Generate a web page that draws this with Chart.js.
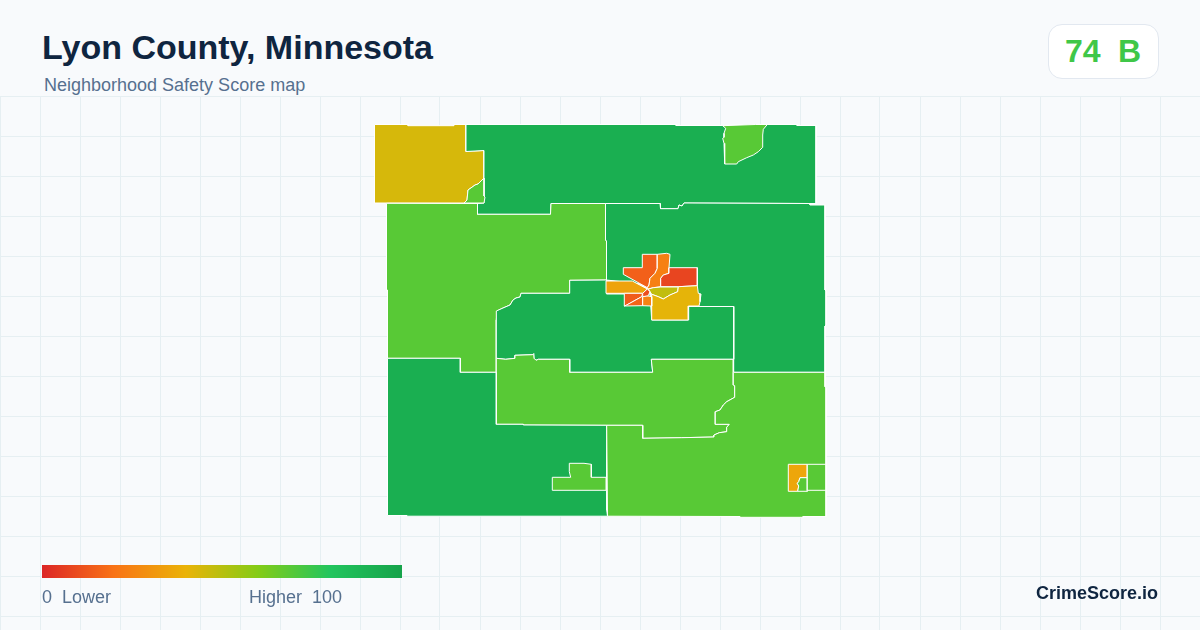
<!DOCTYPE html>
<html>
<head>
<meta charset="utf-8">
<title>Lyon County, Minnesota</title>
<script src="https://cdn.jsdelivr.net/npm/chart.js@4/dist/chart.umd.min.js"></script>
<style>
    html, body { margin: 0; padding: 0; }
    body { width: 1200px; height: 630px; position: relative; overflow: hidden; background: #f8fafc; font-family: "Liberation Sans", Arial, sans-serif; }
    .txt { position: absolute; white-space: pre; line-height: 1; }
    #title { left: 42px; top: 30px; font-size: 34px; font-weight: bold; color: #0f2540; }
    #subtitle { left: 44px; top: 76px; font-size: 18px; color: #56708f; }
    #badge { position: absolute; left: 1048px; top: 24px; width: 109px; height: 53px; background: #fff; border: 1px solid #e2e8f0; border-radius: 14px; }
    #score { left: 1065px; top: 35px; font-size: 32px; font-weight: bold; letter-spacing: -0.1px; }
    #scale { position: absolute; left: 42px; top: 565px; width: 360px; height: 13px; }
    #lower { left: 42px; top: 588px; font-size: 18px; color: #56708f; }
    #higher { left: 249px; top: 588px; font-size: 18px; color: #56708f; }
    #brand { right: 42px; top: 584px; font-size: 18px; font-weight: bold; color: #0f2540; }
    #wrap { position: absolute; left: 0; top: 96px; width: 1200px; height: 534px; }
</style>
</head>
<body>
<div id="wrap"><canvas id="map"></canvas></div>
<div class="txt" id="title">Lyon County, Minnesota</div>
<div class="txt" id="subtitle">Neighborhood Safety Score map</div>
<div id="badge"></div>
<div class="txt" id="score">74  B</div>
<div id="scale"></div>
<div class="txt" id="lower">0  Lower</div>
<div class="txt" id="higher">Higher  100</div>
<div class="txt" id="brand">CrimeScore.io</div>
<script>
// score scale
var scaleStops = [0, 20, 40, 60, 80, 100];
var scaleColors = ['#dc2626', '#f97316', '#eab308', '#84cc16', '#22c55e', '#16a34a'];
var countyScore = 74;

// grid rows of the map frame
var gridRows = [96.5, 136.5, 176.5, 216.5, 256.5, 296.5, 336.5, 376.5, 416.5, 456.5, 496.5, 536.5, 576.5, 616.5];

// tract outlines, in map units
var nwTract = [[374.5,124.5],[408,124.5],[408,125.7],[454,125.7],[454,124.5],[466,124.5],[466,151.5],[472,151],[484,150.5],[484,178],[478,184],[475,185],[473,186.5],[468,190],[467,200],[464,203],[374.5,203]];
var nwCorner = [[484,178],[484,196],[485,197],[484,203],[464,203],[467,200],[468,190],[473,186.5],[475,185],[478,184]];
var northTract = [[466,124.5],[676,124.5],[676,125.5],[723,125.5],[755,124.5],[797,124.5],[797,125.5],[816,125.5],[816,203.5],[810,203.5],[684,203],[682,206],[679,205],[678,208.7],[660.5,208.7],[660,203.5],[605.5,203.5],[551,203.5],[550.5,214.3],[477.5,214.3],[477.5,203.5],[484,203],[484,150.5],[466,151.5]];
var northPatch = [[722.7,125.7],[725.7,128.3],[724,133.3],[724,137.3],[722.7,138.3],[724,143.3],[724.7,164],[736.7,164],[738.3,161.7],[746.7,157.7],[753.3,155],[758.3,151.7],[762.7,147.3],[762.7,135],[763.3,129.3],[767.3,124.5],[755.3,124.5]];
var westTract = [[386.5,203.3],[477.5,203.5],[477.5,214.3],[550.5,214.3],[551,203.5],[605.5,203.5],[605.5,240],[606.5,241],[606.5,280],[569.7,280.3],[569.7,293.3],[521,293.3],[520,297],[516,298],[513,300],[510,305],[503,308],[497,311],[496.3,320],[496.3,372.3],[460.3,372.3],[460.3,358.3],[387.5,358.3],[387.5,290],[386.5,290]];
var eastTract = [[605.5,203.5],[660,203.5],[660.5,208.7],[678,208.7],[679,205],[682,206],[684,203],[810,203.5],[810,205],[825,205],[825,290],[826,291],[826,325],[825,326],[825,372.3],[733.7,372.3],[733.7,306.5],[688.7,306.5],[688,290],[650,285],[606.5,280],[606.5,241],[605.5,240]];
var centerTract = [[569.7,293.3],[569.7,280.3],[606.5,280],[606.5,294],[650,294],[651.7,320],[688.3,320],[688.7,306.5],[733.7,306.5],[733.7,359.3],[651.3,359.3],[652.7,372.3],[569.7,372.3],[569.7,359.3],[538.3,359.3],[536,360.3],[534,358.3],[533.7,353.7],[532.7,354.7],[515,355.3],[515,358.3],[505.7,359.3],[496.3,358.3],[496.3,311],[503,308],[510,305],[513,300],[516,298],[520,297],[521,293.3]];
var southTract = [[496.3,358.3],[505.7,359.3],[515,358.3],[515,355.3],[532.7,354.7],[533.7,353.7],[534,358.3],[536,360.3],[538.3,359.3],[569.7,359.3],[569.7,372.3],[652.7,372.3],[651.3,359.3],[733.3,359.3],[733.3,385],[734.7,385.7],[734.7,397.3],[726.7,401.7],[723.3,405],[720,410],[715.3,411.7],[715.3,424.3],[729.3,424.3],[726.7,427.3],[726.7,431.7],[719.3,432.7],[714,435],[714,437],[681.7,437.7],[642.7,438.3],[642.7,425.3],[606.7,425.3],[523.3,425],[523.3,424.3],[496.3,424.3]];
var swTract = [[387.5,358.3],[460.3,358.3],[460.3,372.3],[496.3,372.3],[496.3,424.3],[523.3,424.3],[523.3,425],[606.7,425.3],[606.7,510],[607.5,516.2],[407,516.2],[407,515.5],[387.5,515.5]];
var swPatch = [[569.3,463.3],[584,463.3],[591.3,464.3],[591.3,477.3],[606.3,477.3],[606.3,490.3],[552.3,490.3],[552.3,477.3],[570.7,477.3],[569.3,471.7]];
var seTract = [[733.3,372.3],[825,372.3],[825,386.7],[826,388],[826,516.5],[803,516.5],[803,517.3],[740,517.3],[740,516.5],[607.5,516.2],[606.7,425.3],[642.7,425.3],[642.7,438.3],[681.7,437.7],[714,437],[714,435],[719.3,432.7],[726.7,431.7],[726.7,427.3],[729.3,424.3],[715.3,424.3],[715.3,411.7],[720,410],[723.3,405],[726.7,401.7],[734.7,397.3],[734.7,385.7],[733.3,385]];
var seTown = [[788.3,464.3],[807.3,464.3],[807.3,477.7],[800,477.7],[798.7,481.7],[797.3,483.3],[798.7,486],[797.7,491.3],[788.3,491.3]];
var seTownInner = [[807.3,477.7],[807.3,491.3],[797.7,491.3],[798.7,486],[797.3,483.3],[798.7,481.7],[800,477.7]];
var seTownEast = [[807.3,464.3],[826,464.3],[826,490.3],[807.3,490.3]];
var cityNorthWest = [[642.3,254.3],[657.3,254.3],[657.3,268.3],[655,273.3],[650,278.3],[649,285],[647.3,287.7],[623.3,274.3],[623.3,267.7],[642.3,267.7]];
var cityNorth = [[657.3,254.3],[666.7,253.3],[670,254.3],[669,267.7],[669,273.3],[663.3,275],[660.7,278.3],[660.7,286.7],[653.3,287.7],[648.3,289],[647.3,287.7],[649,285],[650,278.3],[655,273.3],[657.3,268.3]];
var cityNorthEast = [[669,267.7],[697.3,267.7],[697.3,285.7],[678.3,286.7],[660.7,286.7],[660.7,278.3],[663.3,275],[669,273.3]];
var cityCore = [[660.7,287],[678.3,287],[677.7,291.7],[670,295],[663.3,299],[658.3,296.7],[651.7,294.3],[648.3,289],[653.3,287.7]];
var citySouthEast = [[678.3,286.7],[697.3,285.7],[698.3,293.3],[701,294],[700,301.7],[699,306],[688.3,306],[688.3,320],[651.7,320],[651.7,294.3],[658.3,296.7],[663.3,299],[670,295],[677.7,291.7]];
var cityWest = [[606,281],[632.3,281],[647.3,289],[642.7,293.3],[606,293.3]];
var citySouthWest = [[624.3,293.3],[642.7,293.3],[641.7,296.7],[626.7,305],[624.3,306]];
var citySouthMid = [[626.7,305],[641.7,296.7],[642.7,297],[642.7,305.7],[624.3,306]];
var citySouth = [[642.7,296.7],[646.7,295.7],[651.7,296.7],[651.7,306],[642.7,305.7]];
var cityCenter = [[647.3,289],[650,291.7],[648.3,295.7],[642.7,296.7],[642.7,293.3]];

// drawn in this order, later ones on top
var regionOutlines = [nwTract, northTract, nwCorner, northPatch, westTract, eastTract, centerTract, southTract, swTract, swPatch, seTract, seTown, seTownInner, seTownEast, cityNorthWest, cityNorth, cityNorthEast, cityCore, citySouthEast, cityWest, citySouthWest, citySouthMid, citySouth, cityCenter];
var regionScores = [44, 93, 69, 69, 69, 93, 93, 69, 93, 69, 69, 36, 69, 69, 15, 24, 8, 48, 41, 35, 14, 16, 25, 10];

function hexToRgb(hex) {
    return [1, 3, 5].map(function (i) { return parseInt(hex.substr(i, 2), 16); });
}

function scoreColor(score) {
    for (var i = 1; i < scaleStops.length; i++) {
        if (score <= scaleStops[i]) {
            var t = (score - scaleStops[i - 1]) / (scaleStops[i] - scaleStops[i - 1]);
            var a = hexToRgb(scaleColors[i - 1]), b = hexToRgb(scaleColors[i]);
            return 'rgb(' + a.map(function (v, k) { return Math.round(v + (b[k] - v) * t); }).join(',') + ')';
        }
    }
    return scaleColors[scaleColors.length - 1];
}

document.getElementById('score').style.color = scoreColor(countyScore);
document.getElementById('scale').style.background = 'linear-gradient(to right,' + scaleColors.map(function (c, i) { return c + ' ' + scaleStops[i] + '%'; }).join(',') + ')';

// first dataset is painted last by Chart.js, so flip the list
var datasets = regionOutlines.map(function (outline, i) {
    var pts = outline.concat([outline[0]]).map(function (p) { return { x: p[0], y: p[1] }; });
    return {
        data: pts,
        showLine: true,
        fill: 'shape',
        tension: 0,
        backgroundColor: scoreColor(regionScores[i]),
        borderColor: '#ffffff',
        borderWidth: 1,
        borderJoinStyle: 'miter',
        pointRadius: 0
    };
}).reverse();

var gridLine = { color: '#e6eff2', lineWidth: 1, drawTicks: false };

new Chart(document.getElementById('map'), {
    type: 'scatter',
    data: { datasets: datasets },
    options: {
        responsive: true,
        maintainAspectRatio: false,
        animation: false,
        events: [],
        layout: { padding: 0 },
        plugins: { legend: { display: false }, tooltip: { enabled: false } },
        scales: {
            x: {
                type: 'linear',
                min: 0,
                max: 1200,
                grid: gridLine,
                border: { display: false },
                ticks: { display: false, stepSize: 40, autoSkip: false }
            },
            y: {
                type: 'linear',
                reverse: true,
                min: 96,
                max: 630,
                grid: gridLine,
                border: { display: false },
                ticks: { display: false, autoSkip: false },
                afterBuildTicks: function (axis) {
                    axis.ticks = gridRows.map(function (v) { return { value: v }; });
                }
            }
        }
    }
});
</script>
</body>
</html>
